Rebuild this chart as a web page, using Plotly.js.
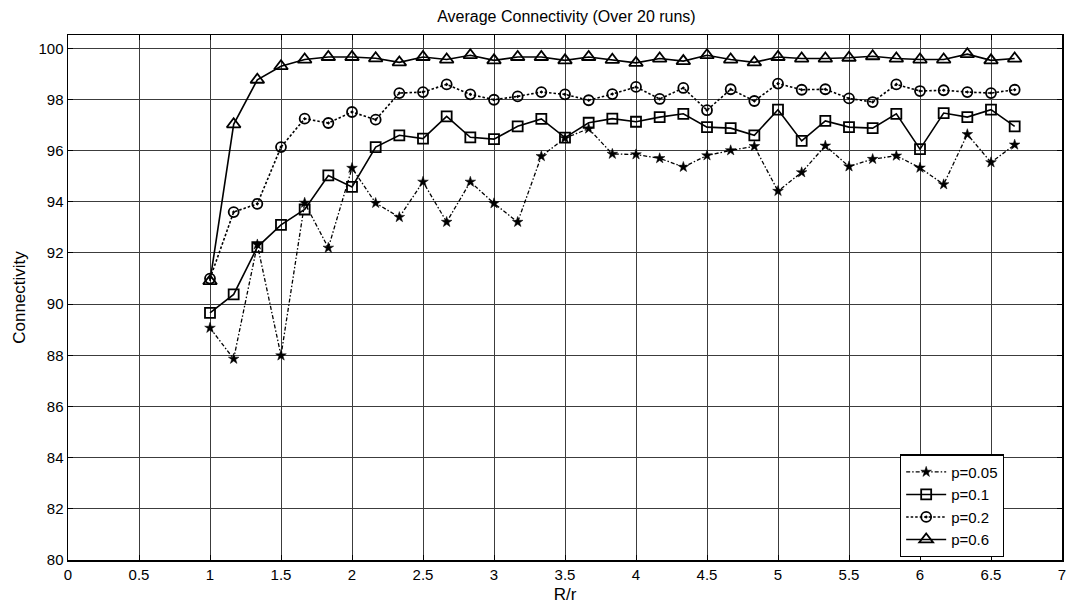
<!DOCTYPE html>
<html>
<head>
<meta charset="utf-8">
<script src="https://cdn.plot.ly/plotly-3.0.1.min.js"></script>
<style>html,body{margin:0;padding:0;background:#fff;}#chart{width:1081px;height:609px;}</style>
</head>
<body>
<div id="chart"></div>
<script>
// R/r values (1 to 6.667 in steps of 1/6)
const ratio = [1, 1.1667, 1.3333, 1.5, 1.6667, 1.8333, 2, 2.1667, 2.3333, 2.5, 2.6667, 2.8333, 3, 3.1667, 3.3333, 3.5, 3.6667, 3.8333, 4, 4.1667, 4.3333, 4.5, 4.6667, 4.8333, 5, 5.1667, 5.3333, 5.5, 5.6667, 5.8333, 6, 6.1667, 6.3333, 6.5, 6.6667];

const p005 = [89.07, 87.86, 92.33, 87.99, 93.96, 92.20, 95.32, 93.95, 93.40, 94.78, 93.21, 94.78, 93.94, 93.21, 95.78, 96.49, 96.86, 95.87, 95.85, 95.70, 95.36, 95.81, 96.01, 96.17, 94.42, 95.15, 96.19, 95.38, 95.67, 95.80, 95.33, 94.68, 96.64, 95.54, 96.23];
const p01  = [89.66, 90.38, 92.23, 93.10, 93.70, 95.03, 94.58, 96.14, 96.60, 96.47, 97.34, 96.52, 96.45, 96.95, 97.24, 96.51, 97.09, 97.25, 97.13, 97.31, 97.44, 96.92, 96.88, 96.60, 97.60, 96.38, 97.16, 96.92, 96.88, 97.44, 96.06, 97.47, 97.31, 97.60, 96.95];
const p02  = [91.00, 93.60, 93.92, 96.14, 97.25, 97.08, 97.51, 97.21, 98.25, 98.29, 98.59, 98.20, 97.99, 98.12, 98.29, 98.20, 97.97, 98.21, 98.49, 98.02, 98.45, 97.58, 98.40, 97.94, 98.62, 98.38, 98.40, 98.04, 97.90, 98.59, 98.33, 98.36, 98.29, 98.25, 98.38];
const p06  = [90.90, 97.03, 98.77, 99.30, 99.56, 99.66, 99.66, 99.61, 99.45, 99.66, 99.56, 99.73, 99.53, 99.66, 99.66, 99.53, 99.66, 99.55, 99.43, 99.60, 99.50, 99.73, 99.56, 99.45, 99.66, 99.60, 99.60, 99.63, 99.69, 99.60, 99.56, 99.56, 99.77, 99.53, 99.60];

const seriesNames = ['p=0.05', 'p=0.1', 'p=0.2', 'p=0.6'];
const xTicks = [0, 0.5, 1, 1.5, 2, 2.5, 3, 3.5, 4, 4.5, 5, 5.5, 6, 6.5, 7];
const yTicks = [80, 82, 84, 86, 88, 90, 92, 94, 96, 98, 100];

const traces = [
  {x: ratio, y: p005, name: seriesNames[0], mode: 'lines+markers',
   line: {color: '#000', width: 1.3, dash: '4px,2px,1.5px,2px'},
   marker: {symbol: 'star', size: 8, color: '#000', line: {color: '#000', width: 0.5}}},
  {x: ratio, y: p01, name: seriesNames[1], mode: 'lines+markers',
   line: {color: '#000', width: 1.6},
   marker: {symbol: 'square-open', size: 10, color: '#000', line: {color: '#000', width: 1.8}}},
  {x: ratio, y: p02, name: seriesNames[2], mode: 'lines+markers',
   line: {color: '#000', width: 1.6, dash: '2.5px,2px'},
   marker: {symbol: 'circle-open-dot', size: 10, color: '#000', line: {color: '#000', width: 1.8}}},
  {x: ratio, y: p06, name: seriesNames[3], mode: 'lines+markers',
   line: {color: '#000', width: 1.6},
   marker: {symbol: 'triangle-up-open', size: 12, color: '#000', line: {color: '#000', width: 1.8}}}
];

const fontFam = 'Liberation Sans, Arial, sans-serif';
const layout = {
  width: 1081, height: 609,
  margin: {l: 68, r: 19, t: 35, b: 49},
  paper_bgcolor: '#fff', plot_bgcolor: '#fff',
  font: {family: fontFam, size: 15, color: '#000'},
  title: {text: 'Average Connectivity (Over 20 runs)', font: {family: fontFam, size: 16, color: '#000'},
          x: 0.524, xanchor: 'center', y: 0.973, yref: 'container', yanchor: 'middle'},
  xaxis: {
    range: [0, 7], tickvals: xTicks, ticktext: xTicks.map(String),
    showgrid: true, gridcolor: 'rgb(60,60,60)', gridwidth: 1,
    zeroline: false, showline: true, linecolor: '#000', linewidth: 1.5, mirror: 'ticks',
    ticks: 'inside', ticklen: 5, tickcolor: '#000',
    tickfont: {family: fontFam, size: 15, color: '#000'},
    title: {text: 'R/r', font: {family: fontFam, size: 17, color: '#000'}, standoff: 6}
  },
  yaxis: {
    range: [80, 100.52], tickvals: yTicks, ticktext: yTicks.map(String),
    showgrid: true, gridcolor: 'rgb(60,60,60)', gridwidth: 1,
    zeroline: false, showline: true, linecolor: '#000', linewidth: 1.5, mirror: 'ticks',
    ticks: 'inside', ticklen: 5, tickcolor: '#000',
    tickfont: {family: fontFam, size: 15, color: '#000'},
    title: {text: 'Connectivity', font: {family: fontFam, size: 17, color: '#000'}, standoff: 8}
  },
  showlegend: true,
  legend: {x: 0.837, y: 0.201, xanchor: 'left', yanchor: 'top',
           bgcolor: '#fff', bordercolor: '#000', borderwidth: 1.2,
           font: {family: fontFam, size: 15, color: '#000'},
           tracegroupgap: 0, itemwidth: 40}
};

Plotly.newPlot('chart', traces, layout, {displayModeBar: false, staticPlot: true});
</script>
</body>
</html>
